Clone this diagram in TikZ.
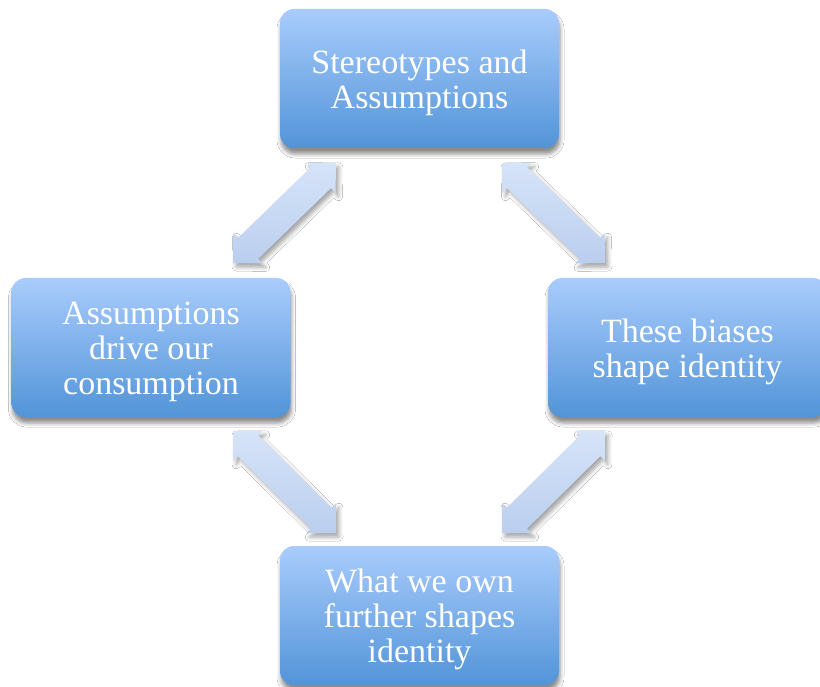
\documentclass[tikz,border=0pt]{standalone}
\usepackage{fontspec}
\setmainfont{Liberation Serif}
\usetikzlibrary{calc,shadows.blur}
\definecolor{boxtop}{RGB}{169,204,252}
\definecolor{boxbot}{RGB}{82,148,216}
\definecolor{arrtop}{RGB}{214,228,249}
\definecolor{arrbot}{RGB}{186,206,238}
\tikzset{
  box/.style={rounded corners=14pt, minimum width=279pt, minimum height=139pt,
    inner sep=0pt, top color=boxtop, bottom color=boxbot,
    blur shadow={shadow xshift=1pt, shadow yshift=-6pt, shadow blur radius=4pt, shadow opacity=45}},
  boxtext/.style={text=white, align=center, inner sep=0pt, font=\fontsize{34}{35}\selectfont},
  barrow/.style={top color=arrtop, bottom color=arrbot,
    blur shadow={shadow xshift=3pt, shadow yshift=-4pt, shadow blur radius=4pt, shadow opacity=35}},
}
\newcommand\dblarrow[2]{%
  \path[barrow] (#1)
    -- ($(#1)!21pt!(#2)!21pt!90:(#2)$)
    -- ($(#1)!21pt!(#2)!14.5pt!90:(#2)$)
    -- ($(#2)!21pt!(#1)!14.5pt!-90:(#1)$)
    -- ($(#2)!21pt!(#1)!21pt!-90:(#1)$)
    -- (#2)
    -- ($(#2)!21pt!(#1)!21pt!90:(#1)$)
    -- ($(#2)!21pt!(#1)!14.5pt!90:(#1)$)
    -- ($(#1)!21pt!(#2)!14.5pt!-90:(#2)$)
    -- ($(#1)!21pt!(#2)!21pt!-90:(#2)$)
    -- cycle;}
\begin{document}
\begin{tikzpicture}[x=1pt,y=-1pt]
  \path[clip, use as bounding box] (0,0) rectangle (820,687);
  \fill[white] (0,0) rectangle (820,687);
  % arrow tips
  \coordinate (tlA) at (233,263);
  \coordinate (tlB) at (336,163);
  \coordinate (trA) at (502,163);
  \coordinate (trB) at (605,263);
  \coordinate (blA) at (233,431);
  \coordinate (blB) at (336,533);
  \coordinate (brA) at (605,431);
  \coordinate (brB) at (502,533);
  \dblarrow{tlA}{tlB}
  \dblarrow{trA}{trB}
  \dblarrow{blA}{blB}
  \dblarrow{brA}{brB}
  % boxes
  \node[box] (top) at (419.5,78.5) {};
  \node[box] (left) at (151,347.5) {};
  \node[box] (right) at (687.5,347.5) {};
  \node[box] (bottom) at (419.5,615.5) {};
  \node[boxtext] (topt) at ($(top.center)+(0,4)$) {Stereotypes and\\Assumptions};
  \node[boxtext] (leftt) at ($(left.center)+(0,4)$) {Assumptions\\drive our\\consumption};
  \node[boxtext] (rightt) at ($(right.center)+(0,4)$) {These biases\\shape identity};
  \node[boxtext] (bottomt) at ($(bottom.center)+(0,4)$) {What we own\\further shapes\\identity};
\end{tikzpicture}
\end{document}
